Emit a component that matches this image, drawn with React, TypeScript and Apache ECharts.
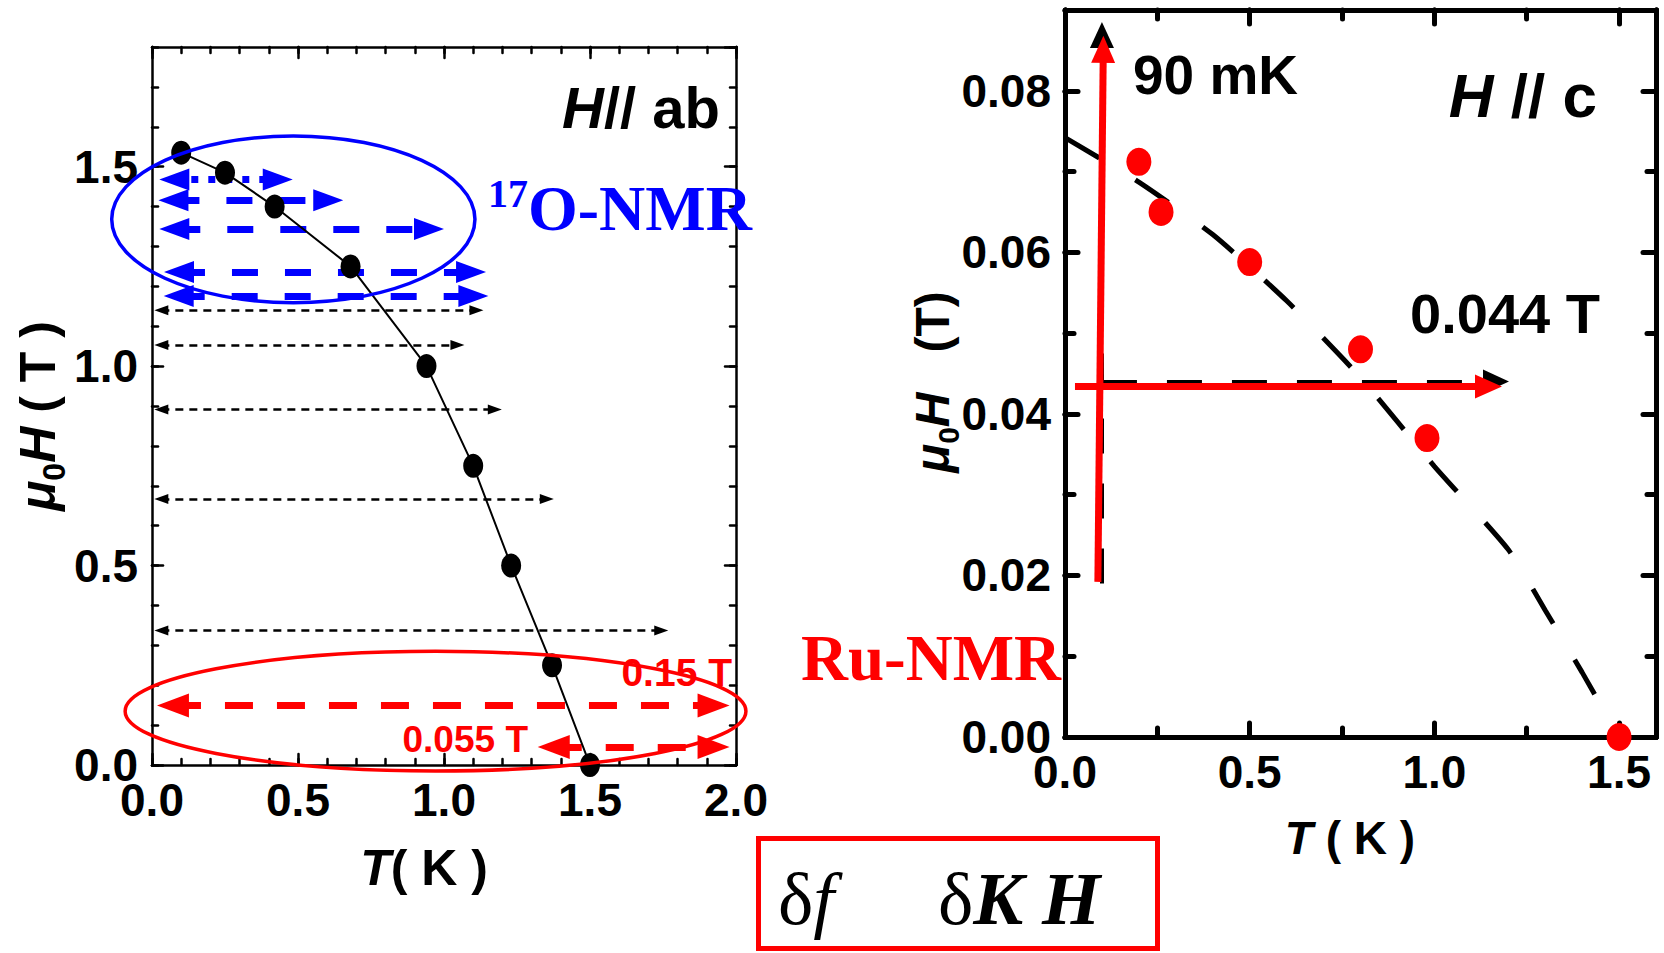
import React, { useEffect, useRef } from 'react';
import * as echarts from 'echarts';

// ---------- data ----------
// Left panel: H // ab, phase boundary points
const leftT = [0.1, 0.25, 0.42, 0.68, 0.94, 1.1, 1.23, 1.37, 1.5];
const leftH = [1.535, 1.485, 1.4, 1.25, 1.0, 0.75, 0.5, 0.25, 0.0];

// black thin dashed double arrows (field level, start T, end T)
const blackArrowH = [1.14, 1.053, 0.891, 0.667, 0.337];
const blackArrowT0 = [0.008, 0.008, 0.008, 0.008, 0.008];
const blackArrowT1 = [1.135, 1.07, 1.198, 1.376, 1.768];

// blue 17O-NMR double arrows (first is dotted)
const blueArrowH = [1.468, 1.416, 1.344, 1.236, 1.176];
const blueArrowT0 = [0.025, 0.022, 0.025, 0.041, 0.04];
const blueArrowT1 = [0.482, 0.655, 1.0, 1.144, 1.152];

// red Ru-NMR double arrows
const redArrowH = [0.149, 0.045];
const redArrowT0 = [0.017, 1.321];
const redArrowT1 = [1.978, 1.978];

// ellipses: [centre T, centre H, radius T, radius H]
const blueEllipse = [0.484, 1.368, 0.622, 0.209];
const redEllipse = [0.971, 0.135, 1.063, 0.15];

// Right panel: H // c
const rightT = [0.2, 0.26, 0.5, 0.8, 0.98, 1.5];
const rightH = [0.0712, 0.065, 0.0588, 0.048, 0.037, 0.0];
const curveT = [0, 0.2, 0.4, 0.6, 0.8, 1.0, 1.2, 1.3, 1.4, 1.5];
const curveH = [0.0742, 0.0687, 0.0622, 0.054, 0.0445, 0.0335, 0.0232, 0.0157, 0.008, 0];

// 90 mK sweep (vertical) and 0.044 T sweep (horizontal): [T0, H0, T1, H1]
const redVertical = [0.089, 0.0192, 0.104, 0.0868];
const blackVertical = [0.1, 0.019, 0.1, 0.0885];
const redHorizontal = [0.027, 0.0434, 1.183, 0.0434];
const blackHorizontal = [0.1, 0.044, 1.202, 0.044];

// axis ticks
const leftXTicks = ['0.0', '0.5', '1.0', '1.5', '2.0'];
const leftYTicks = ['0.0', '0.5', '1.0', '1.5'];
const rightXTicks = ['0.0', '0.5', '1.0', '1.5'];
const rightYTicks = ['0.00', '0.02', '0.04', '0.06', '0.08'];

const FONT_SANS = "'Liberation Sans',Arial,sans-serif";
const FONT_SERIF = "'Liberation Serif','Times New Roman',serif";
const BLUE = '#0000ff';
const RED = '#ff0000';

function axis(
  dim: 'x' | 'y', grid: number, position: string, max: number, interval: number,
  tickLen: number, lw: number, showLine: boolean, labels: string[] | null, margin: number
) {
  return {
    type: 'value', gridIndex: grid, position, min: 0, max, interval,
    axisLine: { show: showLine, onZero: false, lineStyle: { color: '#000', width: lw } },
    axisTick: { show: true, inside: true, length: tickLen, lineStyle: { color: '#000', width: lw, cap: 'round' } },
    axisLabel: labels
      ? {
          show: true, margin, color: '#000', fontSize: 46, fontWeight: 'bold', fontFamily: FONT_SANS,
          showMaxLabel: dim === 'x' && max === 2 ? true : false,
          formatter: (v: number) => {
            const digits = labels[0].length - 2;
            const s = v.toFixed(digits);
            return labels.indexOf(s) >= 0 ? s : '';
          },
        }
      : { show: false },
    splitLine: { show: false },
    minorTick: { show: false },
  };
}

export default function App() {
  const ref = useRef<HTMLDivElement>(null);
  useEffect(() => {
    if (!ref.current) return;
    const chart = echarts.init(ref.current, null, { renderer: 'svg' });

    const xAxis = [
      axis('x', 0, 'bottom', 2, 0.5, 11, 2.5, true, leftXTicks, 12),
      axis('x', 0, 'bottom', 2, 0.1, 6, 2.5, false, null, 0),
      axis('x', 0, 'top', 2, 0.5, 11, 2.5, true, null, 0),
      axis('x', 0, 'top', 2, 0.1, 6, 2.5, false, null, 0),
      axis('x', 1, 'bottom', 1.6, 0.5, 14, 5, true, rightXTicks, 12),
      axis('x', 1, 'bottom', 1.6, 0.25, 9, 5, false, null, 0),
      axis('x', 1, 'top', 1.6, 0.5, 14, 5, true, null, 0),
      axis('x', 1, 'top', 1.6, 0.25, 9, 5, false, null, 0),
    ];
    const yAxis = [
      axis('y', 0, 'left', 1.8, 0.5, 11, 2.5, true, leftYTicks, 14),
      axis('y', 0, 'left', 1.8, 0.1, 6, 2.5, false, null, 0),
      axis('y', 0, 'right', 1.8, 0.5, 11, 2.5, true, null, 0),
      axis('y', 0, 'right', 1.8, 0.1, 6, 2.5, false, null, 0),
      axis('y', 1, 'left', 0.09, 0.02, 13, 5, true, rightYTicks, 14),
      axis('y', 1, 'left', 0.09, 0.01, 9, 5, false, null, 0),
      axis('y', 1, 'right', 0.09, 0.02, 13, 5, true, null, 0),
      axis('y', 1, 'right', 0.09, 0.01, 9, 5, false, null, 0),
    ];

    const baseSeries: any[] = [
      {
        type: 'line', xAxisIndex: 0, yAxisIndex: 0, z: 5,
        data: leftT.map((t, i) => [t, leftH[i]]),
        symbol: 'circle', symbolSize: [20, 24],
        itemStyle: { color: '#000', opacity: 1 },
        lineStyle: { color: '#000', width: 2 },
      },
      {
        type: 'line', xAxisIndex: 4, yAxisIndex: 4, z: 3,
        data: curveT.map((t, i) => [t, curveH[i]]),
        smooth: 0.2, showSymbol: false, symbol: 'none',
        lineStyle: { color: '#000', width: 5, type: [40, 42], cap: 'butt' },
      },
      {
        type: 'scatter', xAxisIndex: 4, yAxisIndex: 4, z: 6,
        data: rightT.map((t, i) => [t, rightH[i]]),
        symbol: 'circle', symbolSize: [25, 28],
        itemStyle: { color: RED, opacity: 1 },
      },
    ];

    chart.setOption({
      animation: false,
      backgroundColor: '#fff',
      grid: [
        { left: 152, top: 47, width: 584, height: 718, containLabel: false, outerBoundsMode: 'none' },
        { left: 1065, top: 10, width: 591, height: 727, containLabel: false, outerBoundsMode: 'none' },
      ],
      xAxis, yAxis,
      series: baseSeries,
    });

    const finder = (g: number) => ({ xAxisIndex: g * 4, yAxisIndex: g * 4 });
    const toPx = (g: number, t: number, h: number) => chart.convertToPixel(finder(g), [t, h]) as number[];
    const fromPx = (g: number, p: number[]) => chart.convertFromPixel(finder(g), p) as number[];

    // pull arrow ends in by half a head so the head's tip lands on the read value
    const arrow = (g: number, t0: number, h0: number, t1: number, h1: number, hf: number, ht: number, extra?: any) => {
      const a = toPx(g, t0, h0), b = toPx(g, t1, h1);
      const dx = b[0] - a[0], dy = b[1] - a[1];
      const L = Math.hypot(dx, dy) || 1;
      const ux = dx / L, uy = dy / L;
      const a2 = [a[0] + (ux * hf) / 2, a[1] + (uy * hf) / 2];
      const b2 = [b[0] - (ux * ht) / 2, b[1] - (uy * ht) / 2];
      return { coords: [fromPx(g, a2), fromPx(g, b2)], ...(extra || {}) };
    };

    const blackArrows = blackArrowH.map((h, i) => arrow(0, blackArrowT0[i], h, blackArrowT1[i], h, 14, 14));
    const blueArrows = blueArrowH.map((h, i) =>
      arrow(0, blueArrowT0[i], h, blueArrowT1[i], h, 30, 30,
        i === 0 ? { lineStyle: { type: [7, 10], width: 7, color: BLUE } } : undefined)
    );
    const redArrows = redArrowH.map((h, i) => arrow(0, redArrowT0[i], h, redArrowT1[i], h, 32, 32));

    const lineSeries: any[] = [
      {
        type: 'lines', coordinateSystem: 'cartesian2d', xAxisIndex: 0, yAxisIndex: 0, z: 4,
        symbol: ['triangle', 'triangle'], symbolSize: [[10, 14], [10, 14]],
        itemStyle: { color: '#000' },
        lineStyle: { color: '#000', width: 2.5, type: [8, 6], opacity: 1, curveness: 0 },
        data: blackArrows,
      },
      {
        type: 'lines', coordinateSystem: 'cartesian2d', xAxisIndex: 0, yAxisIndex: 0, z: 4,
        symbol: ['triangle', 'triangle'], symbolSize: [[22, 30], [22, 30]],
        itemStyle: { color: BLUE },
        lineStyle: { color: BLUE, width: 7, type: [26, 27], opacity: 1, curveness: 0 },
        data: blueArrows,
      },
      {
        type: 'lines', coordinateSystem: 'cartesian2d', xAxisIndex: 0, yAxisIndex: 0, z: 4,
        symbol: ['triangle', 'triangle'], symbolSize: [[24, 32], [24, 32]],
        itemStyle: { color: RED },
        lineStyle: { color: RED, width: 7, type: [28, 24], opacity: 1, curveness: 0 },
        data: redArrows,
      },
      {
        type: 'lines', coordinateSystem: 'cartesian2d', xAxisIndex: 4, yAxisIndex: 4, z: 4,
        symbol: ['none', 'triangle'], symbolSize: [[24, 26], [24, 26]],
        itemStyle: { color: '#000' },
        lineStyle: { color: '#000', width: 4, type: [35, 30], opacity: 1, curveness: 0 },
        data: [
          arrow(1, blackVertical[0], blackVertical[1], blackVertical[2], blackVertical[3], 0, 26),
          arrow(1, blackHorizontal[0], blackHorizontal[1], blackHorizontal[2], blackHorizontal[3], 0, 26),
        ],
      },
      {
        type: 'lines', coordinateSystem: 'cartesian2d', xAxisIndex: 4, yAxisIndex: 4, z: 5,
        symbol: ['none', 'triangle'], symbolSize: [[24, 27], [24, 27]],
        itemStyle: { color: RED },
        lineStyle: { color: RED, width: 7, type: 'solid', opacity: 1, curveness: 0 },
        data: [
          arrow(1, redVertical[0], redVertical[1], redVertical[2], redVertical[3], 0, 27),
          arrow(1, redHorizontal[0], redHorizontal[1], redHorizontal[2], redHorizontal[3], 0, 27),
        ],
      },
    ];

    const ellipse = (e: number[], color: string, lw: number) => {
      const c = toPx(0, e[0], e[1]);
      const rx = Math.abs(toPx(0, e[0] + e[2], e[1])[0] - c[0]);
      const ry = Math.abs(toPx(0, e[0], e[1] + e[3])[1] - c[1]);
      return {
        type: 'ellipse', z: 20, silent: true,
        shape: { cx: c[0], cy: c[1], rx, ry },
        style: { fill: 'none', stroke: color, lineWidth: lw },
      };
    };

    const txt = (x: number, y: number, text: string, font: any, extra?: any) => ({
      type: 'text', z: 30, x, y, silent: true,
      style: { text, fill: '#000', verticalAlign: 'middle', ...font },
      ...(extra || {}),
    });

    const boldSans = (size: number) => ({ fontFamily: FONT_SANS, fontWeight: 'bold', fontSize: size });

    const graphic: any[] = [
      ellipse(blueEllipse, BLUE, 3.5),
      ellipse(redEllipse, RED, 3.5),
      // left panel labels
      txt(720, 107, '{i|H}{n|// ab}', {
        align: 'right',
        rich: {
          i: { ...boldSans(58), fontStyle: 'italic', fill: '#000' },
          n: { ...boldSans(58), fill: '#000' },
        },
      }),
      txt(488, 208, '{s|17}{m|O-NMR}', {
        align: 'left',
        rich: {
          s: { fontFamily: FONT_SERIF, fontWeight: 'bold', fontSize: 40, fill: BLUE, verticalAlign: 'top', lineHeight: 70 },
          m: { fontFamily: FONT_SERIF, fontWeight: 'bold', fontSize: 64, fill: BLUE, lineHeight: 70 },
        },
      }),
      txt(732, 672, '0.15 T', { ...boldSans(39), fill: RED, align: 'right' }),
      txt(528, 739, '0.055 T', { ...boldSans(37), fill: RED, align: 'right' }),
      // left axis titles
      txt(38, 416, '{m|μ}{s|0}{h|H}{n| ( T )}', {
        align: 'center',
        rich: {
          m: { ...boldSans(50), fontStyle: 'italic', fill: '#000', lineHeight: 64, verticalAlign: 'middle' },
          s: { ...boldSans(32), fill: '#000', lineHeight: 64, verticalAlign: 'bottom' },
          h: { ...boldSans(50), fontStyle: 'italic', fill: '#000', lineHeight: 64, verticalAlign: 'middle' },
          n: { ...boldSans(50), fill: '#000', lineHeight: 64, verticalAlign: 'middle' },
        },
      }, { rotation: Math.PI / 2 }),
      txt(424, 868, '{i|T}{n|( K )}', {
        align: 'center',
        rich: {
          i: { ...boldSans(50), fontStyle: 'italic', fill: '#000' },
          n: { ...boldSans(50), fill: '#000' },
        },
      }),
      // right panel labels
      txt(1133, 75, '90 mK', { ...boldSans(55), align: 'left' }),
      txt(1597, 95, '{i|H}{n| // c}', {
        align: 'right',
        rich: {
          i: { ...boldSans(62), fontStyle: 'italic', fill: '#000' },
          n: { ...boldSans(62), fill: '#000' },
        },
      }),
      txt(1600, 313, '0.044 T', { ...boldSans(56), align: 'right' }),
      txt(801, 658, 'Ru-NMR', { fontFamily: FONT_SERIF, fontWeight: 'bold', fontSize: 65, fill: RED, align: 'left' }),
      txt(932, 382, '{m|μ}{s|0}{h|H}{n|   (T)}', {
        align: 'center',
        rich: {
          m: { ...boldSans(48), fontStyle: 'italic', fill: '#000', lineHeight: 62, verticalAlign: 'middle' },
          s: { ...boldSans(30), fill: '#000', lineHeight: 62, verticalAlign: 'bottom' },
          h: { ...boldSans(48), fontStyle: 'italic', fill: '#000', lineHeight: 62, verticalAlign: 'middle' },
          n: { ...boldSans(48), fill: '#000', lineHeight: 62, verticalAlign: 'middle' },
        },
      }, { rotation: Math.PI / 2 }),
      txt(1350, 838, '{i|T}{n| ( K )}', {
        align: 'center',
        rich: {
          i: { ...boldSans(46), fontStyle: 'italic', fill: '#000' },
          n: { ...boldSans(46), fill: '#000' },
        },
      }),
      // bottom box
      {
        type: 'rect', z: 30, silent: true,
        shape: { x: 758.5, y: 838.5, width: 399, height: 110 },
        style: { fill: 'none', stroke: RED, lineWidth: 5 },
      },
      txt(778, 898, '{d|δ}{f|f}', {
        align: 'left',
        rich: {
          d: { fontFamily: FONT_SERIF, fontSize: 75, fill: '#000' },
          f: { fontFamily: FONT_SERIF, fontSize: 75, fontStyle: 'italic', fill: '#000' },
        },
      }),
      txt(938, 898, '{d|δ}{k|K H}', {
        align: 'left',
        rich: {
          d: { fontFamily: FONT_SERIF, fontSize: 75, fill: '#000' },
          k: { fontFamily: FONT_SERIF, fontSize: 75, fontStyle: 'italic', fontWeight: 'bold', fill: '#000' },
        },
      }),
    ];

    chart.setOption({ series: [...baseSeries, ...lineSeries], graphic });

    return () => chart.dispose();
  }, []);

  return (
    <div
      ref={ref}
      style={{ position: 'fixed', left: 0, top: 0, width: 1664, height: 953, background: '#fff' }}
    />
  );
}
